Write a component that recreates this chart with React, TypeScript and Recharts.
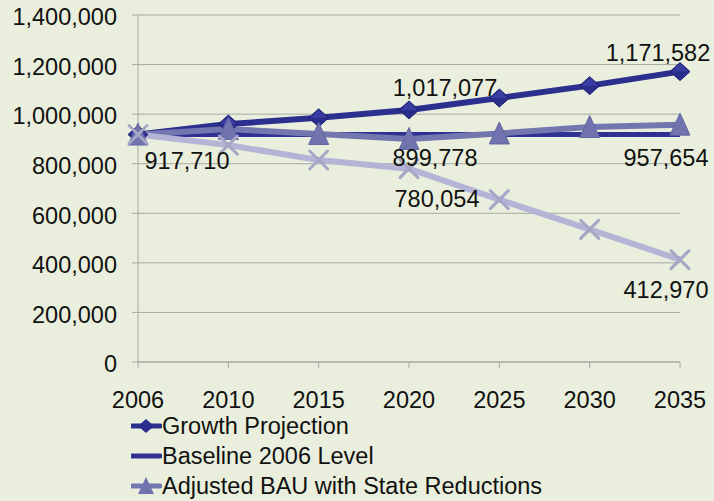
import React from 'react';
import { LineChart, Line, XAxis, YAxis, CartesianGrid, Legend, LabelList } from 'recharts';

// ---- data ----
const years = ['2006', '2010', '2015', '2020', '2025', '2030', '2035'];
const growthProjection = [917710, 960000, 985000, 1017077, 1065000, 1115000, 1171582];
const baseline2006 = [917710, 917710, 917710, 917710, 917710, 917710, 917710];
const adjustedBAU = [917710, 940000, 920000, 899778, 922000, 948000, 957654];
const reductionPath = [917710, 875000, 815000, 780054, 655000, 535000, 412970];
const yTicks = [0, 200000, 400000, 600000, 800000, 1000000, 1200000, 1400000];

const seriesOrder = ['growth', 'baseline', 'adjusted', 'reduction'];
const seriesNames = {
  growth: 'Growth Projection',
  baseline: 'Baseline 2006 Level',
  adjusted: 'Adjusted BAU with State Reductions',
  reduction: 'Reduction Path',
};

// indices of labelled points per series
const labelledPoints: Record<string, number[]> = {
  growth: [3, 6],
  baseline: [0],
  adjusted: [3, 6],
  reduction: [3, 6],
};

const data = years.map((year, i) => ({
  year,
  growth: growthProjection[i],
  baseline: baseline2006[i],
  adjusted: adjustedBAU[i],
  reduction: reductionPath[i],
}));

// ---- styles ----
const FONT = '"Liberation Sans", Arial, Helvetica, sans-serif';
const FS = 23.5;
const BG = '#E9EFDC';
const GRID = '#A7A9A5';

const colors = {
  growth: '#2B2F8E',
  baseline: '#2E3192',
  adjusted: '#7476B0',
  reduction: '#B3B4D6',
};

const labelOffsets: Record<string, { dx: number; dy: number }> = {
  'growth-3': { dx: 36, dy: -22 },
  'growth-6': { dx: -22, dy: -19 },
  'baseline-0': { dx: 49, dy: 26 },
  'adjusted-3': { dx: 26, dy: 19 },
  'adjusted-6': { dx: -14, dy: 33 },
  'reduction-3': { dx: 28, dy: 30 },
  'reduction-6': { dx: -14, dy: 30 },
};

const fmt = (v: number) => v.toLocaleString('en-US');

const Diamond = ({ cx, cy }: any) => {
  if (cx == null || cy == null) return null;
  return (
    <g>
      <polygon
        points={`${cx},${cy - 9} ${cx + 10},${cy} ${cx},${cy + 9} ${cx - 10},${cy}`}
        fill="#2A2D8C"
        stroke="#1F2275"
        strokeWidth={1}
      />
      <polygon points={`${cx},${cy - 8} ${cx + 8},${cy} ${cx},${cy} ${cx - 8},${cy}`} fill="#3A3EA2" />
    </g>
  );
};

const Triangle = ({ cx, cy }: any) => {
  if (cx == null || cy == null) return null;
  return (
    <polygon
      points={`${cx},${cy - 11.5} ${cx + 10},${cy + 10.5} ${cx - 10},${cy + 10.5}`}
      fill="#7073AD"
      stroke="#6466A3"
      strokeWidth={1}
    />
  );
};

const Cross = ({ cx, cy }: any) => {
  if (cx == null || cy == null) return null;
  return (
    <g stroke="#A6A7C6" strokeWidth={3} strokeLinecap="round">
      <line x1={cx - 9} y1={cy - 9} x2={cx + 9} y2={cy + 9} />
      <line x1={cx - 9} y1={cy + 9} x2={cx + 9} y2={cy - 9} />
    </g>
  );
};

const makeLabel = (key: string) => (props: any) => {
  const { index, value } = props;
  const x = props.x ?? props.viewBox?.x;
  const y = props.y ?? props.viewBox?.y;
  if (!labelledPoints[key].includes(index)) return null;
  const off = labelOffsets[`${key}-${index}`];
  return (
    <text
      x={x + off.dx}
      y={y + off.dy}
      textAnchor="middle"
      dominantBaseline="central"
      fontFamily={FONT}
      fontSize={FS}
      fill="#111"
    >
      {fmt(value)}
    </text>
  );
};

const legendIcon = (key: string) => {
  const c = (colors as any)[key];
  return (
    <svg width={31} height={20} style={{ flex: '0 0 auto' }}>
      <line x1={1} y1={10} x2={29} y2={10} stroke={c} strokeWidth={5} strokeLinecap="round" />
      {key === 'growth' && (
        <polygon points="15,3 23,10 15,17 7,10" fill="#2A2D8C" />
      )}
      {key === 'adjusted' && <polygon points="15,1 23,18 7,18" fill="#7073AD" />}
    </svg>
  );
};

const renderLegend = (props: any) => {
  const payload = (props.payload || [])
    .filter((p: any) => p.type !== 'none')
    .slice()
    .sort((a: any, b: any) => seriesOrder.indexOf(a.dataKey) - seriesOrder.indexOf(b.dataKey));
  return (
    <div style={{ fontFamily: FONT, fontSize: FS, color: '#111' }}>
      {payload.map((p: any) => (
        <div key={p.dataKey} style={{ display: 'flex', alignItems: 'center', height: 30, whiteSpace: 'nowrap' }}>
          {legendIcon(p.dataKey)}
          <span style={{ lineHeight: '30px' }}>{p.value}</span>
        </div>
      ))}
    </div>
  );
};

export default function App() {
  return (
    <div style={{ position: 'absolute', left: 0, top: 0, width: 714, height: 501, background: BG, overflow: 'hidden' }}>
      <LineChart width={714} height={501} data={data} margin={{ top: 15, right: 34, left: 0, bottom: 0 }}>
        <CartesianGrid horizontal vertical={false} stroke={GRID} strokeWidth={1} />
        <XAxis
          dataKey="year"
          height={139}
          stroke={GRID}
          tickLine={{ stroke: GRID }}
          tickSize={6}
          tickMargin={23}
          tick={{ fill: '#111', fontFamily: FONT, fontSize: FS }}
          interval={0}
        />
        <YAxis
          width={138}
          domain={[0, 1400000]}
          ticks={yTicks}
          tickFormatter={fmt}
          stroke={GRID}
          tickLine={{ stroke: GRID }}
          tickSize={6}
          tickMargin={15}
          tick={{ fill: '#111', fontFamily: FONT, fontSize: FS, dy: 2 }}
          interval={0}
        />
        <Legend
          layout="vertical"
          align="center"
          verticalAlign="middle"
          wrapperStyle={{ left: 131, top: 411, width: 520, height: 90 }}
          content={renderLegend}
        />
        <Line
          dataKey="growth"
          name={seriesNames.growth}
          stroke={colors.growth}
          strokeWidth={6}
          dot={<Diamond />}
          activeDot={false}
          isAnimationActive={false}
        >
          <LabelList dataKey="growth" content={makeLabel('growth')} />
        </Line>
        <Line
          dataKey="baseline"
          name={seriesNames.baseline}
          stroke={colors.baseline}
          strokeWidth={5}
          dot={false}
          activeDot={false}
          isAnimationActive={false}
        >
          <LabelList dataKey="baseline" content={makeLabel('baseline')} />
        </Line>
        <Line
          dataKey="adjusted"
          name={seriesNames.adjusted}
          stroke={colors.adjusted}
          strokeWidth={6}
          dot={<Triangle />}
          activeDot={false}
          isAnimationActive={false}
        >
          <LabelList dataKey="adjusted" content={makeLabel('adjusted')} />
        </Line>
        <Line
          dataKey="reduction"
          name={seriesNames.reduction}
          stroke={colors.reduction}
          strokeWidth={6}
          dot={<Cross />}
          activeDot={false}
          legendType="none"
          isAnimationActive={false}
        >
          <LabelList dataKey="reduction" content={makeLabel('reduction')} />
        </Line>
      </LineChart>
    </div>
  );
}
